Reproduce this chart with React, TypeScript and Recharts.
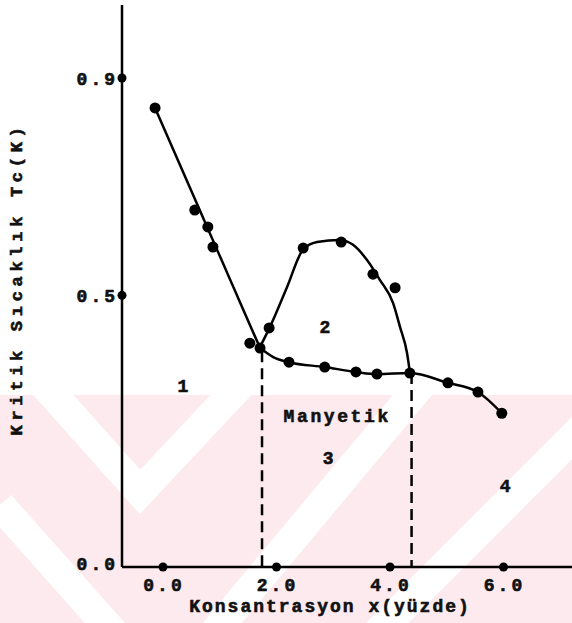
import React from 'react';
import { ComposedChart, Line, Scatter, XAxis, YAxis, Label } from 'recharts';

const FONT = '"Liberation Mono", "DejaVu Sans Mono", monospace';

// axis ticks
const xTicks = [0, 2, 4, 6];
const yTicks = [0, 0.5, 0.9];
const xDomain = [-0.7225, 7.207];
const yDomain = [0, 1.0344];

// branch 1: straight falling line
const branch1X = [-0.14, 1.71];
const branch1Y = [0.845, 0.403];

// branch 2: dome curve
const domeX = [1.709, 1.885, 2.185, 2.467, 2.714, 3.119, 3.348, 3.595, 3.824, 4.053, 4.176, 4.3, 4.352];
const domeY = [0.405, 0.442, 0.515, 0.584, 0.598, 0.602, 0.593, 0.565, 0.528, 0.486, 0.442, 0.394, 0.357];

// lower curve
const lowX = [1.71, 1.95, 2.22, 2.85, 3.4, 3.77, 4.35, 5.02, 5.55, 5.97];
const lowY = [0.403, 0.386, 0.377, 0.368, 0.359, 0.355, 0.357, 0.339, 0.322, 0.283];

// measured points
const ptsX = [-0.14, 0.56, 0.79, 0.88, 1.53, 1.71, 1.87, 2.47, 3.14, 3.7, 4.09, 2.22, 2.85, 3.4, 3.77, 4.35, 5.02, 5.55, 5.97];
const ptsY = [0.845, 0.657, 0.626, 0.589, 0.412, 0.403, 0.44, 0.587, 0.598, 0.539, 0.514, 0.377, 0.368, 0.359, 0.355, 0.357, 0.339, 0.322, 0.283];

// dashed boundaries
const dashAX = [1.745, 1.745];
const dashAY = [0.397, 0];
const dashBX = [4.38, 4.38];
const dashBY = [0.357, 0];

// region labels
const regionText = ['1', '2', 'Manyetik', '3', '4'];
const regionX = [0.35, 2.855, 3.07, 2.91, 6.03];
const regionY = [0.331, 0.44, 0.276, 0.199, 0.147];

const zip = (xs: number[], ys: number[]) => xs.map((x, i) => ({ x, y: ys[i] }));

const branch1 = zip(branch1X, branch1Y);
const dome = zip(domeX, domeY);
const low = zip(lowX, lowY);
const pts = zip(ptsX, ptsY);
const dashA = zip(dashAX, dashAY);
const dashB = zip(dashBX, dashBY);
const regions = regionText.map((t, i) => ({ x: regionX[i], y: regionY[i], t }));

const txt = { fontFamily: FONT, fontWeight: 'bold' as const, fill: '#111', stroke: '#111', strokeWidth: 0.6 };

const YTick = (props: any) => {
  const { x, y, payload } = props;
  const v = payload.value;
  return (
    <g>
      {v !== 0 && <circle cx={x} cy={y} r={4.5} fill="#000" />}
      <text x={x - 4} y={y} dy={v === 0 ? 3 : 7} textAnchor="end" fontSize={18} letterSpacing={3} {...txt}>
        {v.toFixed(1)}
      </text>
    </g>
  );
};

const XTick = (props: any) => {
  const { x, y, payload } = props;
  return (
    <g>
      <circle cx={x} cy={y} r={4.5} fill="#000" />
      <text x={x + 1} y={y + 24} textAnchor="middle" fontSize={18} letterSpacing={3} {...txt}>
        {payload.value.toFixed(1)}
      </text>
    </g>
  );
};

const Dot = (props: any) => {
  const { cx, cy } = props;
  return <circle cx={cx} cy={cy} r={5.5} fill="#000" />;
};

const RegionLabel = (props: any) => {
  const { cx, cy, payload } = props;
  const big = payload.t.length === 1;
  return (
    <text x={cx} y={cy} dominantBaseline="central" textAnchor="middle" fontSize={18} letterSpacing={big ? 0 : 2.6} {...txt}>
      {payload.t}
    </text>
  );
};

const Watermark = () => (
  <svg width={572} height={623} style={{ position: 'absolute', left: 0, top: 0 }}>
    <defs>
      <clipPath id="wm">
        <rect x={0} y={395} width={572} height={228} />
      </clipPath>
    </defs>
    <g clipPath="url(#wm)">
      <rect x={0} y={395} width={572} height={228} fill="#fdeaee" />
      <polyline points="40,380 140,492 245,380" fill="none" stroke="#fff" strokeWidth={30} />
      <line x1={0} y1={505} x2={120} y2={640} stroke="#fff" strokeWidth={30} />
      <line x1={208} y1={640} x2={425} y2={380} stroke="#fff" strokeWidth={30} />
      <line x1={370} y1={640} x2={630} y2={380} stroke="#fff" strokeWidth={30} />
    </g>
  </svg>
);

export default function App() {
  return (
    <div style={{ position: 'absolute', left: 0, top: 0, width: 572, height: 623, background: '#fff', overflow: 'hidden' }}>
      <Watermark />
      <div style={{ position: 'absolute', left: 0, top: 0 }}>
        <ComposedChart width={572} height={623} margin={{ top: 5, right: 0, bottom: 0, left: 0 }}>
          <XAxis
            type="number" dataKey="x" domain={xDomain} ticks={xTicks} allowDataOverflow
            height={56} tickSize={0} tickMargin={0} tickLine={false}
            axisLine={{ stroke: '#000', strokeWidth: 2.5 }} tick={<XTick />}
          >
            <Label
              content={() => (
                <text x={330} y={612} textAnchor="middle" fontSize={18} letterSpacing={2} {...txt}>
                  Konsantrasyon x(yüzde)
                </text>
              )}
            />
          </XAxis>
          <YAxis
            type="number" dataKey="y" domain={yDomain} ticks={yTicks} allowDataOverflow
            width={122} tickSize={0} tickMargin={0} tickLine={false}
            axisLine={{ stroke: '#000', strokeWidth: 2.5 }} tick={<YTick />}
          >
            <Label
              content={() => (
                <text x={22} y={279} transform="rotate(-90 22 279)" textAnchor="middle" fontSize={17} letterSpacing={4.7} {...txt}>
                  Kritik Sıcaklık Tc(K)
                </text>
              )}
            />
          </YAxis>
          <Line data={branch1} dataKey="y" type="linear" stroke="#000" strokeWidth={2.5} dot={false} isAnimationActive={false} />
          <Line data={dome} dataKey="y" type="monotone" stroke="#000" strokeWidth={2.5} dot={false} isAnimationActive={false} />
          <Line data={low} dataKey="y" type="monotone" stroke="#000" strokeWidth={2.5} dot={false} isAnimationActive={false} />
          <Line data={dashA} dataKey="y" type="linear" stroke="#000" strokeWidth={2.5} strokeDasharray="11 6" dot={false} isAnimationActive={false} />
          <Line data={dashB} dataKey="y" type="linear" stroke="#000" strokeWidth={2.5} strokeDasharray="11 6" dot={false} isAnimationActive={false} />
          <Scatter data={pts} shape={<Dot />} isAnimationActive={false} />
          <Scatter data={regions} shape={<RegionLabel />} isAnimationActive={false} />
        </ComposedChart>
      </div>
    </div>
  );
}
